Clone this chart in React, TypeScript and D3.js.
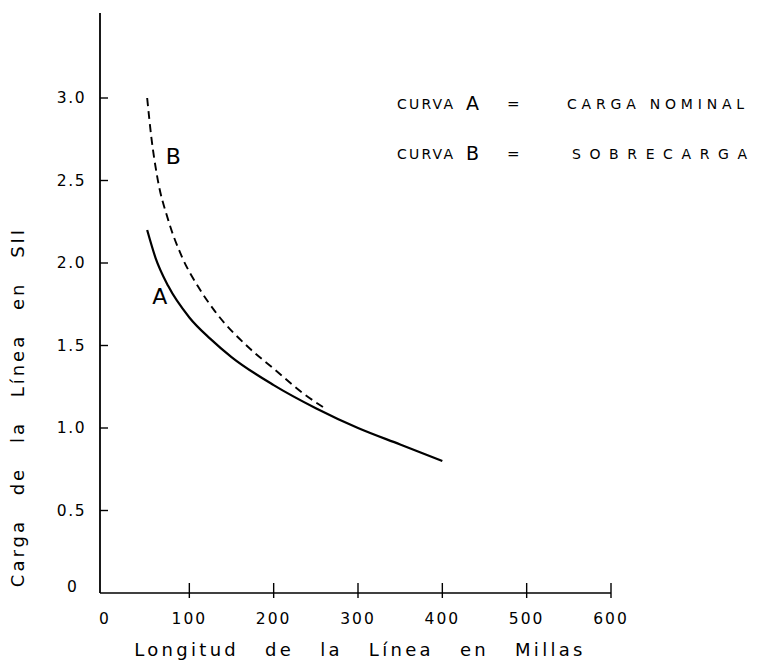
import React from "react";
import * as d3 from "d3";

const xTicks = [0, 100, 200, 300, 400, 500, 600];
const yTicks = [0, 0.5, 1.0, 1.5, 2.0, 2.5, 3.0];
const yTickLabels = ["0", "0.5", "1.0", "1.5", "2.0", "2.5", "3.0"];

const curveAx = [50, 60, 75, 100, 125, 150, 200, 250, 300, 350, 400];
const curveAy = [2.2, 2.03, 1.86, 1.67, 1.54, 1.43, 1.26, 1.12, 1.0, 0.9, 0.8];

const curveBx = [50, 55, 62, 75, 91, 110, 130, 172, 200, 235, 262];
const curveBy = [3.0, 2.76, 2.52, 2.26, 2.04, 1.86, 1.71, 1.48, 1.36, 1.21, 1.115];

const legendLines = [
  { curve: "A", desc: "CARGA NOMINAL", spacing: 4.8, x: 567 },
  { curve: "B", desc: "SOBRECARGA", spacing: 8.6, x: 572 },
];

export default function App() {
  const W = 759, H = 666;
  const x = d3.scaleLinear().domain([0, 600]).range([105, 611]);
  const y = d3.scaleLinear().domain([0, 3]).range([593, 98]);
  const axisX = 100;
  const font = "'DejaVu Sans', sans-serif";

  const line = d3
    .line<[number, number]>()
    .x((d) => x(d[0]))
    .y((d) => y(d[1]))
    .curve(d3.curveMonotoneX);

  const dataA: [number, number][] = curveAx.map((v, i) => [v, curveAy[i]]);
  const dataB: [number, number][] = curveBx.map((v, i) => [v, curveBy[i]]);

  return (
    <svg width={W} height={H} style={{ position: "absolute", left: 0, top: 0, background: "#fff" }}>
      <rect x={0} y={0} width={W} height={H} fill="#fff" />
      {/* axes */}
      <line x1={axisX} y1={13} x2={axisX} y2={y(0)} stroke="#000" strokeWidth={1.8} />
      <line x1={axisX} y1={y(0)} x2={x(600)} y2={y(0)} stroke="#000" strokeWidth={1.5} />
      {/* y ticks */}
      {yTicks.map((t, i) =>
        t === 0 ? null : (
          <g key={"yt" + i}>
            <line x1={axisX} x2={axisX + 8} y1={y(t)} y2={y(t)} stroke="#000" strokeWidth={1.4} />
            <text
              x={axisX - 14}
              y={y(t)}
              dy="0.35em"
              textAnchor="end"
              fontFamily={font}
              fontSize={15.5}
              letterSpacing={1.5}
            >
              {yTickLabels[i]}
            </text>
          </g>
        )
      )}
      <text x={axisX - 28} y={y(0) - 6} dy="0.35em" textAnchor="middle" fontFamily={font} fontSize={15.5}>
        {yTickLabels[0]}
      </text>
      {/* x ticks */}
      {xTicks.map((t, i) => (
        <g key={"xt" + i}>
          {t > 0 && (
            <line x1={x(t)} x2={x(t)} y1={y(0) - 10} y2={y(0) + 5} stroke="#000" strokeWidth={1.4} />
          )}
          <text
            x={x(t)}
            y={y(0) + 31}
            textAnchor="middle"
            fontFamily={font}
            fontSize={15.5}
            letterSpacing={2}
          >
            {t}
          </text>
        </g>
      ))}
      {/* curves */}
      <path d={line(dataA) || ""} fill="none" stroke="#000" strokeWidth={2.2} />
      <path d={line(dataB) || ""} fill="none" stroke="#000" strokeWidth={1.9} strokeDasharray="8,5" />
      {/* curve letters */}
      <text x={x(81)} y={y(2.6)} textAnchor="middle" fontFamily={font} fontSize={22}>
        B
      </text>
      <text x={x(65)} y={y(1.75)} textAnchor="middle" fontFamily={font} fontSize={22}>
        A
      </text>
      {/* legend */}
      {legendLines.map((l, i) => (
        <g key={"lg" + i} fontFamily={font}>
          <text x={397} y={109 + i * 50} fontSize={14} letterSpacing={2.2}>
            CURVA
          </text>
          <text x={466} y={110 + i * 50} fontSize={19}>
            {l.curve}
          </text>
          <text x={507} y={109 + i * 50} fontSize={15}>
            =
          </text>
          <text x={l.x} y={109 + i * 50} fontSize={14} letterSpacing={l.spacing}>
            {l.desc}
          </text>
        </g>
      ))}
      {/* axis titles */}
      <text
        transform={`translate(24, ${407}) rotate(-90)`}
        textAnchor="middle"
        fontFamily={font}
        fontSize={18}
        letterSpacing={3}
        wordSpacing={15}
      >
        Carga de la Línea en SII
      </text>
      <text
        x={360}
        y={656}
        textAnchor="middle"
        fontFamily={font}
        fontSize={18}
        letterSpacing={3.3}
        wordSpacing={17}
      >
        Longitud de la Línea en Millas
      </text>
    </svg>
  );
}
